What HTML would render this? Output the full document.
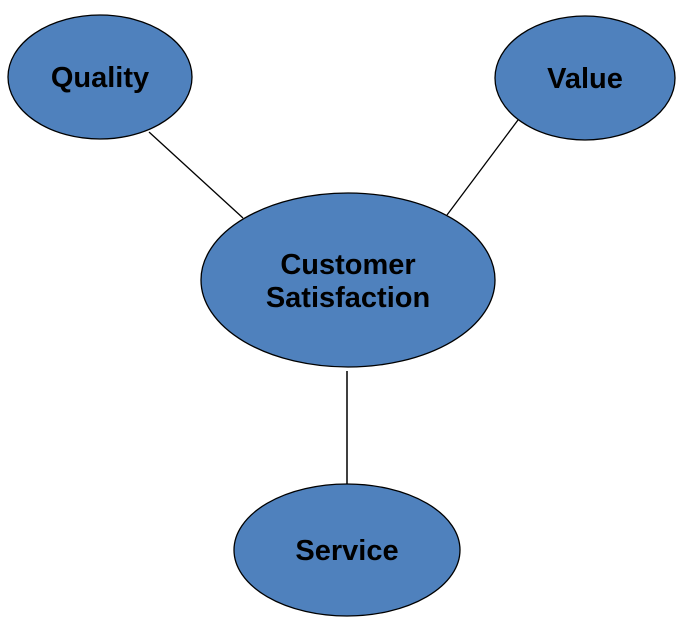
<!DOCTYPE html>
<html><head><meta charset="utf-8"><style>
html,body{margin:0;padding:0;background:#fff;}
svg{display:block;}
text{font-family:"Liberation Sans",Arial,sans-serif;font-weight:bold;fill:#000;text-anchor:middle;}
</style></head><body>
<svg width="688" height="631" viewBox="0 0 688 631">
<line x1="149" y1="132" x2="243" y2="218" stroke="#000" stroke-width="1.3"/>
<line x1="518" y1="120" x2="447" y2="215" stroke="#000" stroke-width="1.3"/>
<line x1="347" y1="371" x2="347" y2="484" stroke="#000" stroke-width="1.5"/>
<ellipse cx="100" cy="77" rx="92" ry="62" fill="#4F81BD" stroke="#000" stroke-width="1.3"/>
<ellipse cx="585" cy="78" rx="90" ry="62" fill="#4F81BD" stroke="#000" stroke-width="1.3"/>
<ellipse cx="348" cy="280" rx="147" ry="87" fill="#4F81BD" stroke="#000" stroke-width="1.3"/>
<ellipse cx="347" cy="550" rx="113" ry="66" fill="#4F81BD" stroke="#000" stroke-width="1.3"/>
<text x="100" y="87" font-size="29">Quality</text>
<text x="585" y="88" font-size="29">Value</text>
<text x="348" y="274" font-size="29">Customer</text>
<text x="348" y="307" font-size="29">Satisfaction</text>
<text x="347" y="560" font-size="29">Service</text>
</svg>
</body></html>
